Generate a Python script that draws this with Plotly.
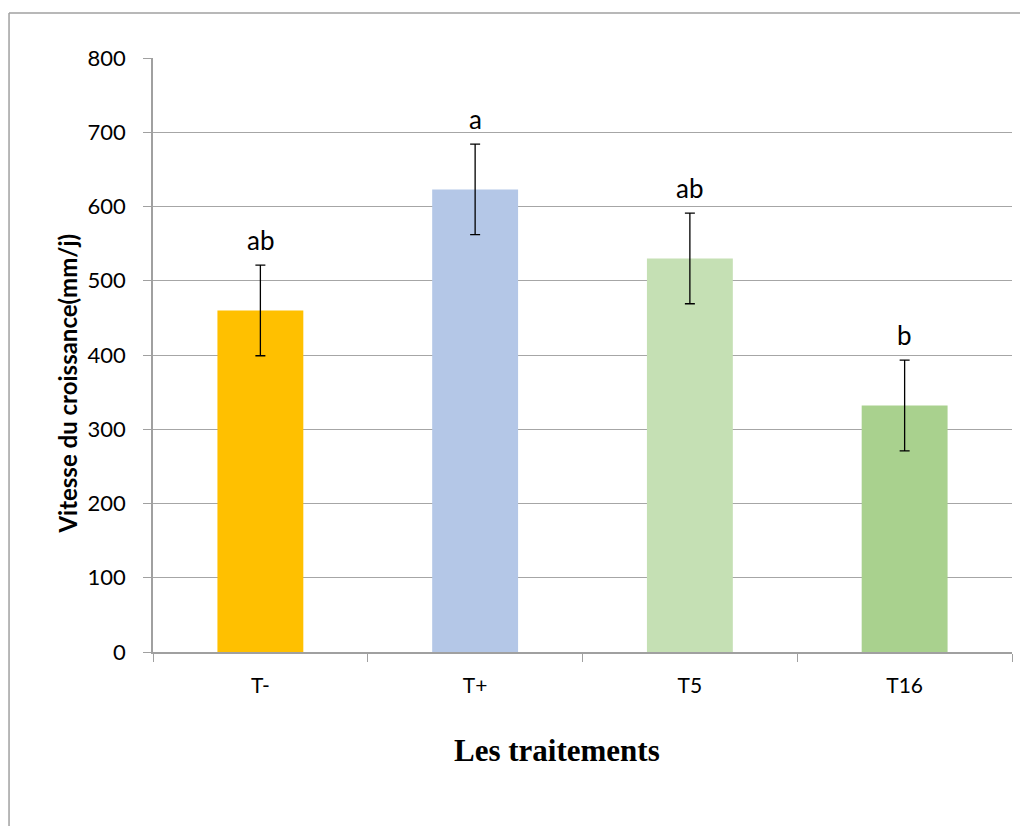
import plotly.graph_objects as go

traitements = ['T-', 'T+', 'T5', 'T16']
vitesse = [460, 623, 530, 332]
erreur = [61, 61, 61, 61]
lettres = ['ab', 'a', 'ab', 'b']
couleurs = ['#FFC000', '#B4C7E7', '#C5E0B4', '#A9D18E']

fig = go.Figure()
fig.add_trace(go.Bar(
    x=traitements, y=vitesse, width=0.4,
    marker=dict(color=couleurs, line=dict(width=0)),
    error_y=dict(type='data', array=erreur, color='black', thickness=1.3, width=5),
    showlegend=False,
))

for t, v, e, l in zip(traitements, vitesse, erreur, lettres):
    fig.add_annotation(x=t, y=v + e, text=l, showarrow=False, yanchor='bottom',
                       yshift=7, font=dict(family='Lato', size=26, color='black'))

fig.add_annotation(xref='paper', yref='paper', x=0.47, y=-0.165, text='<b>Les traitements</b>',
                   showarrow=False, xanchor='center', yanchor='middle',
                   font=dict(family='Liberation Serif', size=31, color='black'))

fig.add_annotation(xref='paper', yref='paper', x=-0.1, y=0.452, text='<b>Vitesse du croissance(mm/j)</b>',
                   showarrow=False, textangle=-90, xanchor='center', yanchor='middle',
                   font=dict(family='Lato', size=24, color='black'))

# cadre du graphique (seuls les bords gauche et haut sont visibles)
fig.add_shape(type='line', xref='paper', yref='paper', x0=-0.1676, x1=-0.1676, y0=-0.6, y1=1.0758,
              line=dict(color='#a0a0a0', width=1.5))
fig.add_shape(type='line', xref='paper', yref='paper', x0=-0.1676, x1=1.3, y0=1.0758, y1=1.0758,
              line=dict(color='#a0a0a0', width=1.5))

# la page a une marge de 8 px autour de la figure
fig.update_layout(
    width=1012, height=818,
    margin=dict(l=145, r=8, t=50, b=174),
    paper_bgcolor='white', plot_bgcolor='white',
    font=dict(family='Lato', size=22, color='black'),
    bargap=0.6,
)
fig.update_xaxes(
    tickson='boundaries', ticks='outside', ticklen=8, tickcolor='#a0a0a0',
    showline=True, linecolor='#a0a0a0', linewidth=1.5, showgrid=False,
    tickfont=dict(family='Lato', size=21), ticklabelstandoff=14,
)
fig.update_yaxes(
    range=[0, 800], dtick=100, ticks='outside', ticklen=8, tickcolor='#a0a0a0',
    showline=True, linecolor='#a0a0a0', linewidth=1.5,
    showgrid=True, gridcolor='#a6a6a6', gridwidth=1.3, zeroline=False,
    tickfont=dict(family='Lato', size=22), ticklabelstandoff=13,
)

fig.write_html('out.html')
